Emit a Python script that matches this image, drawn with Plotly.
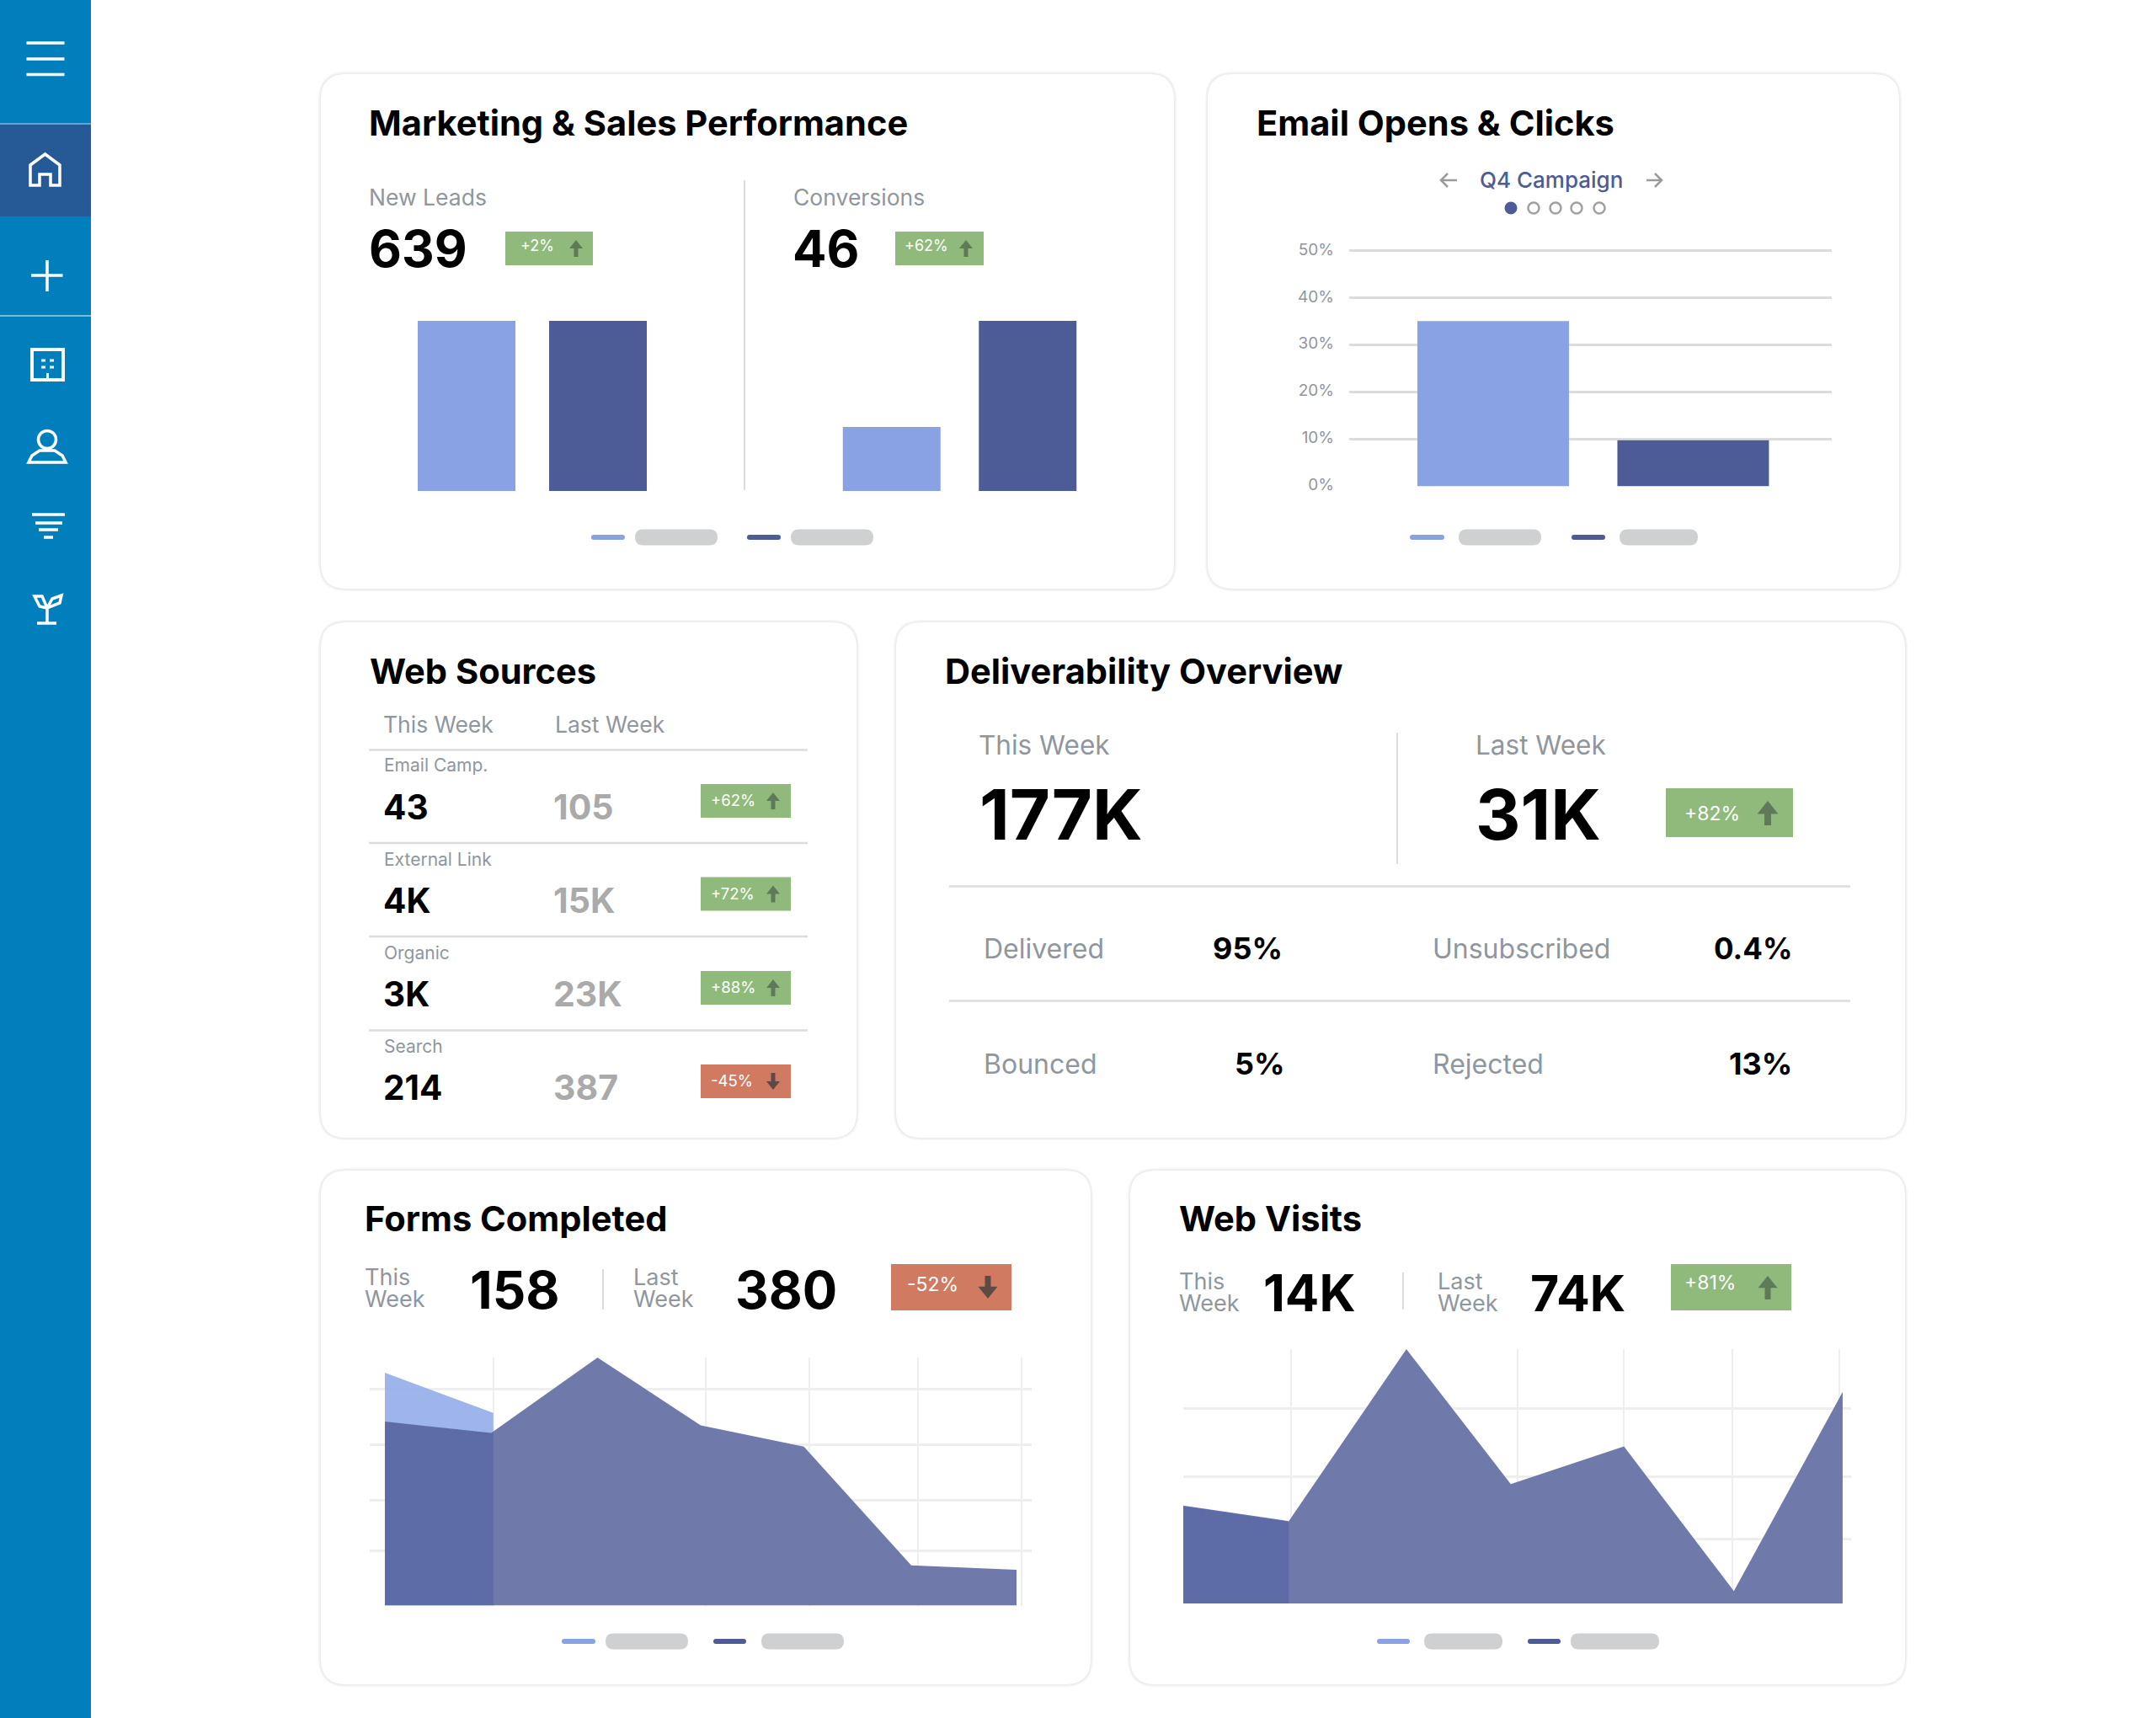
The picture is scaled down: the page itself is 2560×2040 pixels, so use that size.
import plotly.graph_objects as go

# ---------- data ----------
new_leads_values = [639, 639]
conversions_values = [17.3, 46]
email_categories = [0, 1]
email_values = [35.1, 9.8]
email_ticks = [0, 10, 20, 30, 40, 50]
email_tick_labels = ["0%", "10%", "20%", "30%", "40%", "50%"]

forms_x_last = [0, 1.01, 2.02, 3.0, 3.98, 5.0, 6.0]
forms_last = [339, 318, 457, 332, 293, 74, 66]
forms_x_this = [0, 1.03]
forms_this = [429, 355]
forms_grid_x = [1.03, 3.05, 4.03, 5.06, 6.05]
forms_grid_y = [0, 101, 194, 297, 399]

visits_x_last = [0, 0.96, 2.03, 2.98, 4.01, 5.01, 6.0]
visits_last = [15.1, 12.7, 39.2, 18.4, 24.2, 1.9, 32.6]
visits_x_this = [0, 0.96]
visits_this = [15.0, 12.6]
visits_grid_x = [0, 0.98, 3.04, 4.01, 5.0, 5.97]
visits_grid_y = [0, 9.9, 19.6, 30.1]

source_names = ["Email Camp.", "External Link", "Organic", "Search"]
source_this = ["43", "4K", "3K", "214"]
source_last = ["105", "15K", "23K", "387"]
source_change = ["+62%", "+72%", "+88%", "-45%"]

# ---------- styles ----------
FONT = "Inter"
LIGHT = "#88A2E3"
DARK = "#4D5B96"
GREEN = "#8FBA7C"
RED = "#D07A62"
GREY_TXT = "#8F969E"
LINE = "#DCDCDC"
PILL = "#CFD0D2"
W, H = 2560, 2040

shapes, notes = [], []


def px(x):
    return x / W


def py(y):
    return 1 - y / H


def P(x, y):
    return f"{px(x):.5f},{py(y):.5f}"


def rect(x0, y0, x1, y1, fill):
    shapes.append(dict(type="rect", xref="paper", yref="paper", x0=px(x0), x1=px(x1),
                       y0=py(y1), y1=py(y0), fillcolor=fill, line_width=0, layer="below"))


def path(points, color, width=3.5, fill=None, close=False):
    d = "M" + " L".join(P(*p) for p in points) + (" Z" if close else "")
    shapes.append(dict(type="path", xref="paper", yref="paper", path=d, layer="below",
                       fillcolor=fill or "rgba(0,0,0,0)",
                       line=dict(color=color, width=width)))


def rrect(x0, y0, x1, y1, r, fill, line=None, lw=0):
    d = (f"M{P(x0 + r, y0)} L{P(x1 - r, y0)} Q{P(x1, y0)} {P(x1, y0 + r)} "
         f"L{P(x1, y1 - r)} Q{P(x1, y1)} {P(x1 - r, y1)} L{P(x0 + r, y1)} "
         f"Q{P(x0, y1)} {P(x0, y1 - r)} L{P(x0, y0 + r)} Q{P(x0, y0)} {P(x0 + r, y0)} Z")
    shapes.append(dict(type="path", xref="paper", yref="paper", path=d, layer="below",
                       fillcolor=fill, line=dict(color=line or fill, width=lw)))


def circle(cx, cy, r, fill="rgba(0,0,0,0)", line=None, lw=0):
    shapes.append(dict(type="circle", xref="paper", yref="paper", x0=px(cx - r), x1=px(cx + r),
                       y0=py(cy + r), y1=py(cy - r), fillcolor=fill, layer="below",
                       line=dict(color=line or fill, width=lw)))


def txt(x, y, s, size, color="#000000", weight=400, anchor="left"):
    notes.append(dict(xref="paper", yref="paper", x=px(x), y=py(y), text=s, showarrow=False,
                      xanchor=anchor, yanchor="middle", align=anchor, borderpad=0, borderwidth=0,
                      font=dict(family=FONT, size=size, color=color, weight=weight)))


def card(x0, y0, x1, y1):
    rrect(x0 - 3, y0 - 3, x1 + 3, y1 + 3, 33, "#F6F6F6")
    rrect(x0 - 1.5, y0 - 1.5, x1 + 1.5, y1 + 1.5, 31.5, "#ECECEC")
    rrect(x0, y0, x1, y1, 30, "#FFFFFF")


def arrow(cx, top, bottom, head_w, shaft_w, color, up=True):
    hh = head_w * 0.62
    hw, sw = head_w / 2, shaft_w / 2
    if up:
        pts = [(cx, top), (cx + hw, top + hh), (cx + sw, top + hh), (cx + sw, bottom),
               (cx - sw, bottom), (cx - sw, top + hh), (cx - hw, top + hh)]
    else:
        pts = [(cx, bottom), (cx + hw, bottom - hh), (cx + sw, bottom - hh), (cx + sw, top),
               (cx - sw, top), (cx - sw, bottom - hh), (cx - hw, bottom - hh)]
    path(pts, color, width=0, fill=color, close=True)


def badge(x0, y0, x1, y1, label, tx, ty, size, ax, at, ab, hw, sw, up=True):
    rect(x0, y0, x1, y1, GREEN if up else RED)
    txt(tx, ty, label, size, "#FFFFFF", 400)
    arrow(ax, at, ab, hw, sw, "#5F7A58" if up else "#5E4A44", up)


def legend(x1, x2, pa, pb, x3, x4, pc, pd, y):
    rrect(x1, y - 3, x2, y + 3, 3, LIGHT)
    rrect(pa, y - 9.5, pb, y + 9.5, 9.5, PILL)
    rrect(x3, y - 3, x4, y + 3, 3, DARK)
    rrect(pc, y - 9.5, pd, y + 9.5, 9.5, PILL)


# ---------- sidebar ----------
rect(0, 0, 108, H, "#007FBC")
rect(0, 147, 108, 257, "#255A96")
rect(0, 146, 108, 148, "#5FA7D0")
rect(0, 374, 108, 376, "#7FB9DA")
WHITE = "#FFFFFF"
for yy in (51, 70, 88.5):
    path([(31.5, yy), (76.5, yy)], WHITE, 3.5)
path([(36, 220), (36, 196), (53.5, 183), (71, 196), (71, 220), (60, 220), (60, 207), (47, 207), (47, 220)],
     WHITE, 3.5, close=True)
path([(37, 327), (74.5, 327)], WHITE, 3.5)
path([(56, 309), (56, 346)], WHITE, 3.5)
path([(38, 415), (75, 415), (75, 451), (38, 451)], WHITE, 4, close=True)
for xx in (49, 59):
    for yy in (428, 436):
        path([(xx, yy), (xx + 5, yy)], WHITE, 3)
path([(56.5, 443), (56.5, 451)], WHITE, 3)
circle(56, 522, 10.5, line=WHITE, lw=3.5)
path([(34, 549), (78, 549), (74, 541), (65, 535), (47, 535), (38, 541)], WHITE, 3.5, close=True)
path([(38, 611), (77, 611)], WHITE, 3.5)
path([(42, 621), (74, 621)], WHITE, 3.5)
path([(46, 629), (69, 629)], WHITE, 3.5)
path([(52, 638), (63, 638)], WHITE, 3.5)
path([(56, 740), (56, 722)], WHITE, 3.5)
path([(44, 740), (67, 740)], WHITE, 3.5)
path([(56, 722), (47, 720), (41, 708), (50, 708), (56, 722), (62, 711), (73, 707), (71, 716), (56, 722)], WHITE, 3.5)

# ---------- cards ----------
card(381, 88, 1394, 699)
card(1434, 88, 2255, 699)
card(381, 739, 1017, 1351)
card(1064, 739, 2262, 1351)
card(381, 1390, 1295, 2000)
card(1342, 1390, 2262, 2000)

# Card 1
txt(438, 146, "Marketing &amp; Sales Performance", 41.6, weight=700)
txt(438, 234, "New Leads", 26.5, GREY_TXT)
txt(942, 234, "Conversions", 26.5, GREY_TXT)
txt(438, 295, "639", 60, weight=700)
txt(941, 295, "46", 60, weight=700)
badge(600, 275, 704, 315, "+2%", 618, 292, 18, 684, 285, 305, 16, 5)
badge(1063, 275, 1168, 315, "+62%", 1074, 292, 18, 1147, 285, 305, 16, 5)
path([(884, 214), (884, 582)], LINE, 2)
legend(702, 742, 754, 852, 887, 927, 939, 1037, 638)

# Card 2
txt(1492, 146, "Email Opens &amp; Clicks", 41.6, weight=700)
txt(1842, 214, "Q4 Campaign", 26, DARK, 500, anchor="center")
path([(1730, 214), (1711, 214)], "#9A9A9A", 2.5)
path([(1719, 206), (1711, 214), (1719, 222)], "#9A9A9A", 2.5)
path([(1955, 214), (1973, 214)], "#9A9A9A", 2.5)
path([(1965, 206), (1973, 214), (1965, 222)], "#9A9A9A", 2.5)
circle(1794, 247, 7.5, DARK)
for cx in (1821, 1847, 1872, 1899):
    circle(cx, 247, 6.5, "#FFFFFF", "#A0A0A0", 2.5)
legend(1674, 1715, 1732, 1830, 1866, 1906, 1923, 2016, 638)

# Card 3
txt(439, 797, "Web Sources", 41.6, weight=700)
txt(455, 860, "This Week", 26.5, GREY_TXT)
txt(659, 860, "Last Week", 26.5, GREY_TXT)
for yy in (890.5, 1001, 1112, 1223.5):
    path([(438, yy), (959, yy)], LINE, 2.5)
row_lab = [909, 1020, 1131, 1242]
row_val = [958, 1069, 1180, 1291]
row_bad = [931, 1041.5, 1153, 1264]
for i, name in enumerate(source_names):
    txt(456, row_lab[i], name, 21, GREY_TXT)
    txt(455, row_val[i], source_this[i], 40.5, weight=700)
    txt(657, row_val[i], source_last[i], 41, "#AAAAAA", 700)
    up = source_change[i].startswith("+")
    badge(832, row_bad[i], 939, row_bad[i] + 40, source_change[i], 844, row_bad[i] + 19, 18.5,
          918, row_bad[i] + 10, row_bad[i] + 30, 16, 5, up)

# Card 4
txt(1122, 797, "Deliverability Overview", 41.6, weight=700)
txt(1162, 884, "This Week", 31.5, GREY_TXT)
txt(1752, 884, "Last Week", 31.5, GREY_TXT)
txt(1163, 967, "177K", 83, weight=700)
txt(1752, 967, "31K", 83, weight=700)
path([(1659, 870), (1659, 1026)], LINE, 2)
badge(1978, 936, 2129, 994, "+82%", 2000, 966, 23, 2099, 951, 980, 25, 8)
for yy in (1052.5, 1188.5):
    path([(1127, yy), (2197, yy)], LINE, 2.5)
txt(1168, 1126, "Delivered", 32, GREY_TXT)
txt(1701, 1126, "Unsubscribed", 32, GREY_TXT)
txt(1168, 1263, "Bounced", 32, GREY_TXT)
txt(1701, 1263, "Rejected", 32, GREY_TXT)
txt(1523, 1126, "95%", 36, weight=700, anchor="right")
txt(2128, 1126, "0.4%", 35, weight=700, anchor="right")
txt(1526, 1263, "5%", 36, weight=700, anchor="right")
txt(2128, 1263, "13%", 36, weight=700, anchor="right")

# Card 5
txt(433, 1447, "Forms Completed", 41.6, weight=700)
txt(433, 1516, "This", 27, GREY_TXT)
txt(433, 1542, "Week", 27, GREY_TXT)
txt(558, 1531, "158", 62, weight=700)
path([(716, 1507), (716, 1555)], LINE, 2)
txt(752, 1516, "Last", 27, GREY_TXT)
txt(752, 1542, "Week", 27, GREY_TXT)
txt(873, 1531, "380", 61.5, weight=700)
badge(1058, 1501, 1201, 1556, "-52%", 1077, 1525, 23, 1173, 1515, 1542, 23, 7, up=False)
legend(667, 707, 719, 817, 847, 886, 904, 1002, 1949)

# Card 6
txt(1400, 1447, "Web Visits", 41.6, weight=700)
txt(1400, 1521, "This", 27, GREY_TXT)
txt(1400, 1547, "Week", 27, GREY_TXT)
txt(1500, 1535, "14K", 60, weight=700)
path([(1666, 1511), (1666, 1555)], LINE, 2)
txt(1707, 1521, "Last", 27, GREY_TXT)
txt(1707, 1547, "Week", 27, GREY_TXT)
txt(1817, 1535, "74K", 59, weight=700)
badge(1984, 1501, 2127, 1556, "+81%", 2000, 1523, 23, 2099, 1515, 1543, 23, 7)
legend(1635, 1674, 1691, 1784, 1814, 1853, 1865, 1970, 1949)

# ---------- charts ----------
fig = go.Figure()
hidden = dict(showgrid=False, zeroline=False, showticklabels=False, showline=False, ticks="", automargin=False)


def xdom(a, b):
    return [px(a), px(b)]


def ydom(top, bottom):
    return [py(bottom), py(top)]


fig.add_trace(go.Bar(x=[0, 1], y=new_leads_values, marker=dict(color=[LIGHT, DARK], line_width=0),
                     width=116 / 156, xaxis="x", yaxis="y", showlegend=False))
fig.add_trace(go.Bar(x=[0, 1], y=conversions_values, marker=dict(color=[LIGHT, DARK], line_width=0),
                     width=116 / 161.5, xaxis="x2", yaxis="y2", showlegend=False))
fig.add_trace(go.Bar(x=email_categories, y=email_values, marker=dict(color=[LIGHT, DARK], line_width=0),
                     width=180 / 237.5, xaxis="x3", yaxis="y3", showlegend=False))

# Forms areas: an opaque white copy of the last-week series hides the grid under the tinted fill
fig.add_trace(go.Scatter(x=forms_x_last, y=forms_last, fill="tozeroy", mode="none",
                         fillcolor="#FFFFFF", xaxis="x4", yaxis="y4", showlegend=False))
fig.add_trace(go.Scatter(x=forms_x_this, y=forms_this, fill="tozeroy", mode="none",
                         fillcolor="rgba(140,168,230,0.85)", xaxis="x4", yaxis="y4", showlegend=False))
fig.add_trace(go.Scatter(x=forms_x_last, y=forms_last, fill="tozeroy", mode="none",
                         fillcolor="rgba(77,91,150,0.81)", xaxis="x4", yaxis="y4", showlegend=False))
# Visits areas
fig.add_trace(go.Scatter(x=visits_x_last, y=visits_last, fill="tozeroy", mode="none",
                         fillcolor="#FFFFFF", xaxis="x5", yaxis="y5", showlegend=False))
fig.add_trace(go.Scatter(x=visits_x_this, y=visits_this, fill="tozeroy", mode="none",
                         fillcolor="rgba(140,168,230,0.85)", xaxis="x5", yaxis="y5", showlegend=False))
fig.add_trace(go.Scatter(x=visits_x_last, y=visits_last, fill="tozeroy", mode="none",
                         fillcolor="rgba(77,91,150,0.81)", xaxis="x5", yaxis="y5", showlegend=False))

GRID2 = "#EEEEEE"
fig.update_layout(
    template="none",
    width=W, height=H, margin=dict(l=0, r=0, t=0, b=0, pad=0, autoexpand=False), autosize=False,
    paper_bgcolor="#FFFFFF", plot_bgcolor="rgba(0,0,0,0)",
    barmode="overlay", shapes=shapes, annotations=notes,
    font=dict(family=FONT),
    xaxis=dict(domain=xdom(476, 788), range=[-0.5, 1.5], anchor="y", **hidden),
    yaxis=dict(domain=ydom(381, 583), range=[0, 639], anchor="x", **hidden),
    xaxis2=dict(domain=xdom(978, 1301), range=[-0.5, 1.5], anchor="y2", **hidden),
    yaxis2=dict(domain=ydom(381, 583), range=[0, 46], anchor="x2", **hidden),
    xaxis3=dict(domain=xdom(1602, 2175), range=[-0.72, 1.693], anchor="y3", **hidden),
    yaxis3=dict(domain=ydom(292.4, 577.5), range=[0, 51], anchor="x3", showgrid=True, gridcolor=LINE,
                gridwidth=2.5, zeroline=False, showline=False, tickmode="array", tickvals=email_ticks,
                ticktext=email_tick_labels, ticks="", ticklabelstandoff=17, ticklabelshift=-2,
                automargin=False, tickfont=dict(family=FONT, size=19, color=GREY_TXT)),
    xaxis4=dict(domain=xdom(439, 1225), range=[-0.144, 6.144], anchor="y4", showgrid=True,
                gridcolor=GRID2, gridwidth=2, tickvals=forms_grid_x, showticklabels=False,
                zeroline=False, showline=False, ticks="", automargin=False),
    yaxis4=dict(domain=ydom(1612, 1906.5), range=[0, 457], anchor="x4", showgrid=True,
                gridcolor=GRID2, gridwidth=2.5, tickvals=forms_grid_y, showticklabels=False,
                zeroline=False, showline=False, ticks="", automargin=False),
    xaxis5=dict(domain=xdom(1405, 2198), range=[0, 6.077], anchor="y5", showgrid=True,
                gridcolor=GRID2, gridwidth=2, tickvals=visits_grid_x, showticklabels=False,
                zeroline=False, showline=False, ticks="", automargin=False),
    yaxis5=dict(domain=ydom(1602, 1904), range=[0, 39.2], anchor="x5", showgrid=True,
                gridcolor=GRID2, gridwidth=2.5, tickvals=visits_grid_y, showticklabels=False,
                zeroline=False, showline=False, ticks="", automargin=False),
)

fig.write_html("out.html", config=dict(displayModeBar=False),
               post_script="document.body.style.margin='0';document.body.style.background='#fff';")
